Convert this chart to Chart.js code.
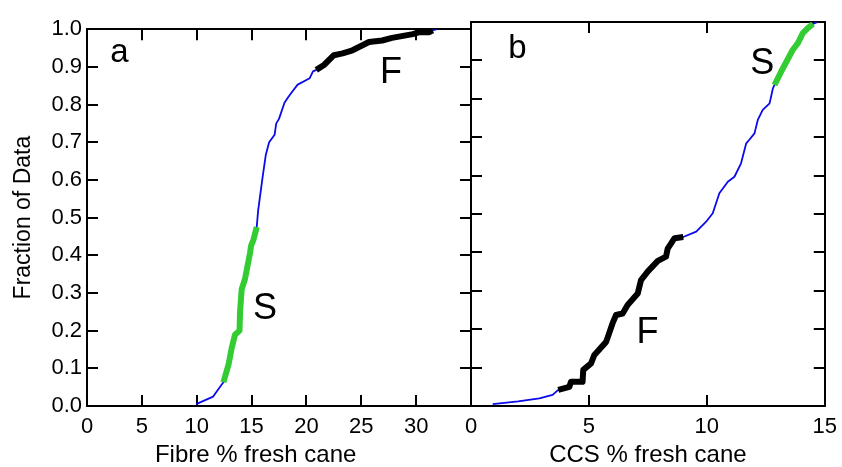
<!DOCTYPE html>
<html>
<head>
<meta charset="utf-8">
<script src="https://cdn.jsdelivr.net/npm/chart.js@4.4.1/dist/chart.umd.min.js"></script>
<style>
html, body { margin: 0; padding: 0; background: #fff; }
#wrap { position: relative; width: 842px; height: 467px; overflow: hidden; }
#fibre-chart { position: absolute; left: 0; top: 0; }
#ccs-chart { position: absolute; left: 440px; top: 0; }
</style>
</head>
<body>
<div id="wrap">
  <canvas id="fibre-chart" width="490" height="467"></canvas>
  <canvas id="ccs-chart" width="416" height="467"></canvas>
</div>
<script>
// panel a: cumulative fraction vs fibre % fresh cane
var fibreX = [9.95, 11.5, 12.1, 12.43, 12.9, 13.19, 13.49, 13.9, 13.95, 14.1, 14.4, 14.86, 14.95, 15.16, 15.47,
    15.6, 16.0, 16.3, 16.6, 17.1, 17.25, 17.5, 18.0, 18.3, 18.75, 19.2, 20.3, 20.6, 20.9,
    21.6, 22.5, 23.3, 24.2, 25.7, 26.9, 27.8, 29.7, 30.3, 31.2, 31.5, 31.9];
var fibreY = [0.005, 0.025, 0.05, 0.063, 0.11, 0.154, 0.189, 0.20, 0.25, 0.31, 0.337, 0.406, 0.425, 0.44, 0.475,
    0.519, 0.606, 0.667, 0.70, 0.72, 0.75, 0.762, 0.805, 0.818, 0.836, 0.853, 0.87, 0.888, 0.892,
    0.905, 0.931, 0.936, 0.944, 0.966, 0.97, 0.977, 0.987, 0.992, 0.992, 0.997, 1.0];
var fibreSpanS = [3, 14];   // index range drawn thick green (S)
var fibreSpanF = [28, 39];  // index range drawn thick black (F)

// panel b: cumulative fraction vs CCS % fresh cane
var ccsX = [0.92, 2.0, 2.9, 3.46, 3.7, 4.17, 4.24, 4.73, 4.76, 5.09, 5.23, 5.73, 6.0, 6.15, 6.43, 6.64,
    7.07, 7.21, 7.49, 7.92, 8.27, 8.34, 8.63, 9.0, 9.55, 9.97, 10.25, 10.53, 10.89, 11.17, 11.45,
    11.67, 11.81, 12.02, 12.16, 12.37, 12.66, 12.8, 12.87, 13.22, 13.64, 13.86, 14.07, 14.28, 14.5, 14.7];
var ccsY = [0.005, 0.012, 0.02, 0.029, 0.042, 0.05, 0.063, 0.063, 0.094, 0.111, 0.133, 0.167, 0.215, 0.237, 0.241, 0.263,
    0.293, 0.328, 0.35, 0.378, 0.389, 0.41, 0.437, 0.44, 0.454, 0.48, 0.502, 0.554, 0.584, 0.597, 0.632,
    0.684, 0.694, 0.71, 0.745, 0.771, 0.788, 0.827, 0.836, 0.879, 0.927, 0.945, 0.971, 0.984, 0.995, 1.0];
var ccsSpanF = [4, 23];
var ccsSpanS = [38, 44];

var yTicks = [0, 0.1, 0.2, 0.3, 0.4, 0.5, 0.6, 0.7, 0.8, 0.9, 1.0];

var FONT = '"Liberation Sans", Arial, Helvetica, sans-serif';

function points(xs, ys, from, to) {
    var out = [];
    for (var i = from; i <= to; i++) out.push({x: xs[i], y: ys[i]});
    return out;
}

function lineSet(data, color, width, order) {
    return {
        data: data,
        borderColor: color,
        borderWidth: width,
        pointRadius: 0,
        tension: 0,
        fill: false,
        order: order,
        borderJoinStyle: 'round',
        borderCapStyle: 'butt'
    };
}

// writes the a / b / F / S letters at data positions
var letterPlugin = {
    id: 'panelLetters',
    afterDatasetsDraw: function(chart, args, opts) {
        var ctx = chart.ctx;
        var xs = chart.scales.x, ys = chart.scales.y;
        ctx.save();
        ctx.fillStyle = '#000';
        ctx.textAlign = 'center';
        ctx.textBaseline = 'alphabetic';
        (opts.items || []).forEach(function(it) {
            ctx.font = it.size + 'px ' + FONT;
            ctx.fillText(it.text, xs.getPixelForValue(it.x), ys.getPixelForValue(it.y));
        });
        ctx.restore();
    }
};

function axisGrid() {
    return { drawOnChartArea: false, tickLength: -11, lineWidth: 2, color: '#000' };
}

function makeScales(xMax, xTitle, showY, yWidth, hideLast) {
    return {
        x: {
            type: 'linear', position: 'bottom', min: 0, max: xMax,
            ticks: {
                stepSize: 5, autoSkip: false, maxRotation: 0, padding: 19,
                color: '#000', font: {family: FONT, size: 22},
                callback: function(v) { return (hideLast && v === xMax) ? '' : v; }
            },
            grid: axisGrid(),
            border: {color: '#000', width: 2},
            title: {display: true, text: xTitle, color: '#000', padding: 0,
                font: {family: FONT, size: 24, lineHeight: 1}},
            afterFit: function(s) { s.height = 61; }
        },
        xTop: {
            type: 'linear', position: 'top', min: 0, max: xMax,
            ticks: {stepSize: 5, display: false},
            grid: axisGrid(),
            border: {color: '#000', width: 2},
            afterFit: function(s) { s.height = 0; }
        },
        y: {
            type: 'linear', position: 'left', min: 0, max: 1,
            afterBuildTicks: function(s) { s.ticks = yTicks.map(function(v) { return {value: v}; }); },
            ticks: {
                display: showY, padding: 16, color: '#000', font: {family: FONT, size: 22},
                callback: function(v) { return v.toFixed(1); }
            },
            grid: axisGrid(),
            border: {color: '#000', width: 2},
            title: {display: showY, text: 'Fraction of Data', color: '#000',
                padding: {top: 12, bottom: 0}, font: {family: FONT, size: 23, lineHeight: 1}},
            afterFit: function(s) { s.width = yWidth; }
        },
        yRight: {
            type: 'linear', position: 'right', min: 0, max: 1,
            afterBuildTicks: function(s) { s.ticks = yTicks.map(function(v) { return {value: v}; }); },
            ticks: {display: false},
            grid: axisGrid(),
            border: {color: '#000', width: 2},
            afterFit: function(s) { s.width = 0; }
        }
    };
}

function makeChart(canvasId, xs, ys, spanGreen, spanBlack, scales, padding, letters) {
    var el = document.getElementById(canvasId);
    return new Chart(el, {
        type: 'line',
        data: {
            datasets: [
                lineSet(points(xs, ys, spanGreen[0], spanGreen[1]), 'rgb(51,204,51)', 6, 1),
                lineSet(points(xs, ys, spanBlack[0], spanBlack[1]), '#000', 6, 1),
                lineSet(points(xs, ys, 0, xs.length - 1), 'rgb(10,10,235)', 1.8, 2)
            ]
        },
        options: {
            responsive: false,
            animation: false,
            devicePixelRatio: 1,
            events: [],
            layout: {padding: padding},
            scales: scales,
            plugins: {
                legend: {display: false},
                tooltip: {enabled: false},
                panelLetters: {items: letters}
            }
        },
        plugins: [letterPlugin]
    });
}

var fibreChart = makeChart('fibre-chart', fibreX, fibreY, fibreSpanS, fibreSpanF,
    makeScales(35, 'Fibre % fresh cane\u00a0\u00a0\u00a0\u00a0\u00a0\u00a0\u00a0', true, 87, true),
    {left: 0, top: 22, right: 19, bottom: 0},
    [
        {text: 'a', x: 2.96, y: 0.914, size: 33},
        {text: 'F', x: 27.7, y: 0.857, size: 36},
        {text: 'S', x: 16.23, y: 0.232, size: 36}
    ]);

var ccsChart = makeChart('ccs-chart', ccsX, ccsY, ccsSpanS, ccsSpanF,
    makeScales(15, 'CCS % fresh cane', false, 0, false),
    {left: 31, top: 22, right: 31, bottom: 0},
    [
        {text: 'b', x: 1.97, y: 0.906, size: 33},
        {text: 'S', x: 12.35, y: 0.865, size: 36},
        {text: 'F', x: 7.48, y: 0.164, size: 36}
    ]);
</script>
</body>
</html>
